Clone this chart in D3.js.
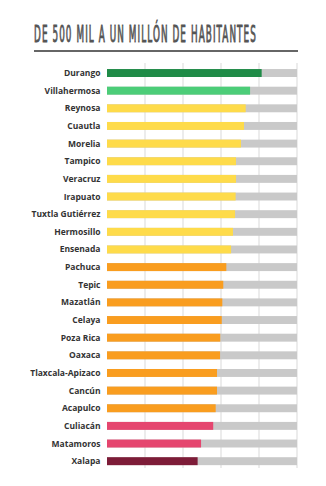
<!DOCTYPE html>
<html><head><meta charset="utf-8">
<script src="https://cdn.jsdelivr.net/npm/d3@7"></script>
<style>html,body{margin:0;padding:0;background:#fff;}svg{display:block;}</style>
</head><body>
<script>
const title = "DE 500 MIL A UN MILLÓN DE HABITANTES";
const cities = ["Durango","Villahermosa","Reynosa","Cuautla","Morelia","Tampico","Veracruz","Irapuato","Tuxtla Gutiérrez","Hermosillo","Ensenada","Pachuca","Tepic","Mazatlán","Celaya","Poza Rica","Oaxaca","Tlaxcala-Apizaco","Cancún","Acapulco","Culiacán","Matamoros","Xalapa"];
const values = [81.4,75.3,73.0,72.1,70.5,67.9,67.9,67.7,67.4,66.3,65.3,62.8,61.2,60.7,60.4,59.6,59.5,57.9,57.9,57.2,55.9,49.5,47.7];
const groups = ["dg","lg","y","y","y","y","y","y","y","y","y","o","o","o","o","o","o","o","o","o","p","p","m"];
const groupColors = {dg:"#1f8b47", lg:"#4ccd78", y:"#fedb4a", o:"#f99d1f", p:"#e5466f", m:"#7d1c38"};
const gridTicks = [20,40,60,80,100];

const W = 326, H = 486;
const svg = d3.select("body").append("svg").attr("width", W).attr("height", H);

const x = d3.scaleLinear().domain([0,100]).range([107, 297]);
const y = d3.scaleBand().domain(cities).range([64.2, 470]).paddingInner(0.55).paddingOuter(0.275);

// title (condensed by horizontal scaling to fit the reference width)
const tg = svg.append("g");
const tt = tg.append("text").attr("x", 0).attr("y", 0)
  .attr("font-family", "DejaVu Sans Condensed, DejaVu Sans").attr("font-weight", 400)
  .attr("font-size", 22.5).attr("fill", "#555").attr("stroke", "#555").attr("stroke-width", 0.9)
  .attr("letter-spacing", 2.5)
  .text(title);
const bb = tt.node().getBBox();
const sx = 222 / (bb.width - 2.5);
tg.attr("transform", `translate(34,42) scale(${sx},1)`);

svg.append("line").attr("x1", 34).attr("x2", 298).attr("y1", 51).attr("y2", 51)
  .attr("stroke", "#666").attr("stroke-width", 2);

// grid
svg.append("g").selectAll("line").data(gridTicks).join("line")
  .attr("x1", d => x(d)).attr("x2", d => x(d))
  .attr("y1", 63).attr("y2", 468)
  .attr("stroke", "#e6e6e6").attr("stroke-width", 1.5);

// tracks
svg.append("g").selectAll("rect").data(cities).join("rect")
  .attr("x", x(0)).attr("width", x(100) - x(0))
  .attr("y", d => y(d)).attr("height", y.bandwidth())
  .attr("fill", "#c9c9c9");

// bars
svg.append("g").selectAll("rect").data(cities).join("rect")
  .attr("x", x(0)).attr("width", (d,i) => x(values[i]) - x(0))
  .attr("y", d => y(d)).attr("height", y.bandwidth())
  .attr("fill", (d,i) => groupColors[groups[i]]);

// labels
svg.append("g").selectAll("text").data(cities).join("text")
  .attr("x", 100.5).attr("y", d => y(d) + y.bandwidth()/2)
  .attr("dy", "0.35em").attr("text-anchor", "end")
  .attr("font-family", "Open Sans").attr("font-weight", 700).attr("font-size", 8.5)
  .attr("fill", "#333")
  .text(d => d);
</script>
</body></html>
